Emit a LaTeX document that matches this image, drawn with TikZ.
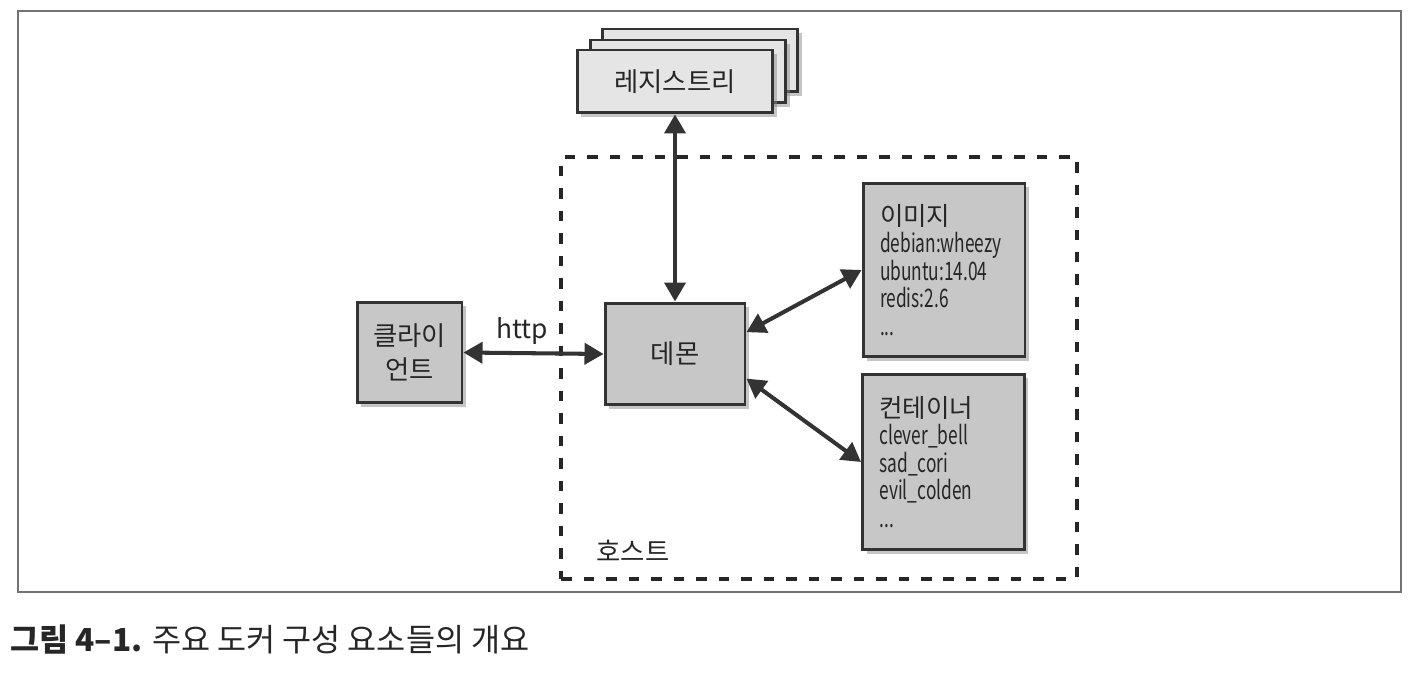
\documentclass[tikz,border=0pt]{standalone}
\usepackage{fontspec}
\setmainfont{Noto Sans CJK KR}
\newfontfamily\condfont{Noto Sans CJK KR}[FakeStretch=0.68]
\usetikzlibrary{arrows.meta,shadows}

\begin{document}
\begin{tikzpicture}[x=0.02cm, y=-0.02cm]
\tikzset{ >={Triangle[length=0.38cm,width=0.42cm]},
  box/.style={draw=black!80, line width=1.7pt, fill=black!22, inner sep=0pt,
    drop shadow={shadow xshift=0.08cm, shadow yshift=-0.08cm, fill=black!45, opacity=0.5}},
  regbox/.style={box, fill=black!10, minimum width=3.92cm, minimum height=1.26cm},
  listbox/.style={box, text width=2.56cm, inner xsep=0.34cm, align=left,
    font=\condfont\fontsize{14.5}{15.6}\selectfont, text=black!85},
  link/.style={<->, line width=2.3pt, draw=black!80},
  ktext/.style={font=\fontsize{15}{19}\selectfont, text=black!85},
}

\useasboundingbox (0,0) rectangle (1419,685);
%\draw [lightgray, dashed](0,0) grid[step=50] (1419,685);

\draw [black!55, line width=1pt] (18,11) rectangle (1401,592);

% host
\node [draw=black!85, line width=2.5pt, dash pattern=on 0.21cm off 0.24cm,
       minimum width=10.32cm, minimum height=8.44cm] (host) at (819,368) {};
\node [ktext] (hostlabel) at (633,551) {호스트};

% registry stack
\node [regbox] (reg3) at (700,60.5) {};
\node [regbox] (reg2) at (688,71.5) {};
\node [regbox, ktext] (reg) at (675,81.5) {레지스트리};

\node [box, ktext, minimum width=2.1cm, minimum height=2.02cm, align=center]
      (client) at (409.5,352.5) {클라이\\언트};
\node [box, ktext, minimum width=2.8cm, minimum height=2.04cm] (daemon) at (675,354) {데몬};

\node [listbox, minimum height=3.48cm] (images) at (944,270)
  {{\rmfamily\fontsize{14.5}{17}\selectfont 이미지}\\debian:wheezy\\ubuntu:14.04\\redis:2.6\\...};
\node [listbox, minimum height=3.52cm] (containers) at (943.5,462)
  {{\rmfamily\fontsize{14.5}{17}\selectfont 컨테이너}\\clever\_bell\\sad\_cori\\evil\_colden\\...};

\draw [link] (client.east) -- (daemon.west);
\node [ktext] (http) at (522,331) {http};
\draw [link] (daemon.north) -- (reg.south);
\draw [link] (daemon.17) -- (images.west);
\draw [link] (daemon.-19) -- (containers.west);

\node [anchor=west, font=\fontsize{18}{21}\selectfont, text=black!85] (caption) at (4,640)
  {\textbf{그림 4–1.} 주요 도커 구성 요소들의 개요};

\end{tikzpicture}
\end{document}
